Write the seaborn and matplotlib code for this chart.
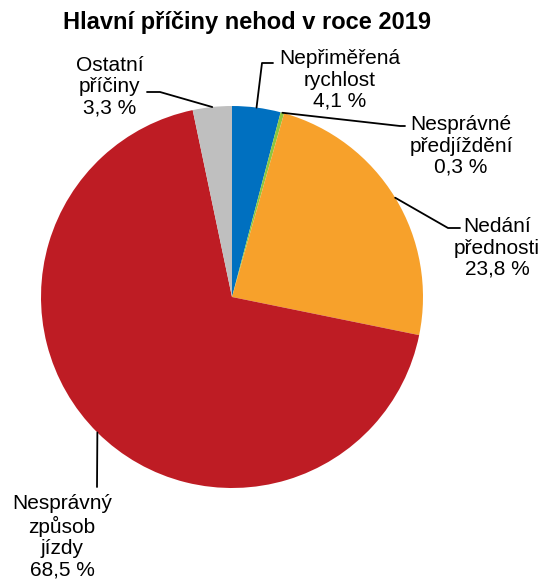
import numpy as np
import matplotlib.pyplot as plt
import seaborn as sns

# data
causes = ["Nepřiměřená\nrychlost", "Nesprávné\npředjíždění", "Nedání\npřednosti",
          "Nesprávný\nzpůsob\njízdy", "Ostatní\npříčiny"]
shares = [4.1, 0.3, 23.8, 68.5, 3.3]
colors = ["#0070C0", "#8CC63F", "#F7A12B", "#BE1C24", "#BFBFBF"]

# label layout in pixel coords (x, y from top): elbow, line end, text centre
elbows = [(262, 63), (400, 126), (448, 228), (97, 487), (160, 92)]
ends = [(273, 63), (405, 126), (460, 228), (97, 487), (147, 92)]
text_pos = [(340, 80), (461, 146), (497, 248), (62, 537), (110, 87)]

sns.set_theme(style="white")
plt.rcParams["font.family"] = ["Liberation Sans", "DejaVu Sans"]

W, H = 545, 583
fig = plt.figure(figsize=(W / 100, H / 100), dpi=100)
ax = fig.add_axes([0, 0, 1, 1])

cx, cy, r = 232, H - 297, 191
wedges, _ = ax.pie(shares, colors=colors, startangle=90, counterclock=False,
                   center=(cx, cy), radius=r, frame=True,
                   wedgeprops=dict(linewidth=0))
ax.set_xlim(0, W)
ax.set_ylim(0, H)
ax.set_aspect("equal")
ax.axis("off")

for w, name, val, el, en, tp in zip(wedges, causes, shares, elbows, ends, text_pos):
    ang = np.deg2rad((w.theta1 + w.theta2) / 2)
    sx, sy = cx + r * np.cos(ang), cy + r * np.sin(ang)
    ax.plot([sx, el[0], en[0]], [sy, H - el[1], H - en[1]], color="black", lw=1.3)
    label = f"{name}\n{val:.1f} %".replace(".", ",")
    ax.text(tp[0], H - tp[1], label, ha="center", va="center", fontsize=15,
            linespacing=1.15, color="black")

fig.text(247 / W, 1 - 23 / H, "Hlavní příčiny nehod v roce 2019", ha="center", va="center",
         fontsize=17, fontweight="bold", color="black")

fig.savefig("out.png", dpi=100)
